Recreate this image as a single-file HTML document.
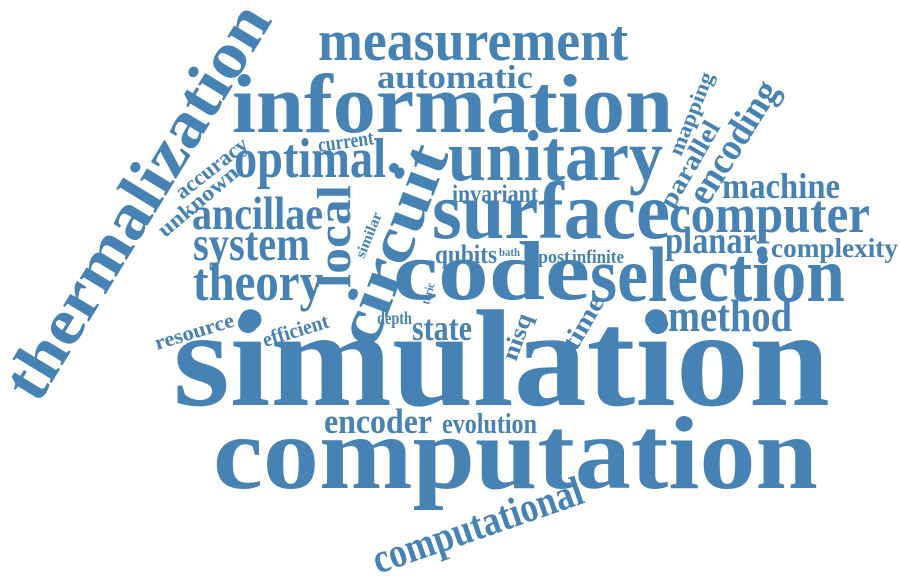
<!DOCTYPE html>
<html><head><meta charset="utf-8"><style>
html,body{margin:0;padding:0;background:#fff;}
svg{display:block;}
text{font-family:"Liberation Serif",serif;font-weight:bold;fill:#4682b4;}
</style></head><body>
<svg width="900" height="576" viewBox="0 0 900 576" xmlns="http://www.w3.org/2000/svg">
<text x="318" y="60" font-size="58" textLength="310" lengthAdjust="spacingAndGlyphs">measurement</text>
<text x="377" y="88" font-size="33" textLength="156" lengthAdjust="spacingAndGlyphs">automatic</text>
<text x="232" y="132" font-size="84" textLength="441" lengthAdjust="spacingAndGlyphs">information</text>
<text x="448" y="180" font-size="72" textLength="215" lengthAdjust="spacingAndGlyphs">unitary</text>
<text x="234" y="177" font-size="56" textLength="152" lengthAdjust="spacingAndGlyphs">optimal</text>
<circle cx="394" cy="168" r="5" fill="#4682b4"/>
<text transform="translate(319,152) rotate(-8)" font-size="21" textLength="56" lengthAdjust="spacingAndGlyphs">current</text>
<text transform="translate(182,200) rotate(-38)" font-size="22" textLength="86" lengthAdjust="spacingAndGlyphs">accuracy</text>
<text transform="translate(165,238) rotate(-40)" font-size="22" textLength="98" lengthAdjust="spacingAndGlyphs">unknown</text>
<text x="452" y="202" font-size="25" textLength="86" lengthAdjust="spacingAndGlyphs">invariant</text>
<text x="432" y="238" font-size="82" textLength="238" lengthAdjust="spacingAndGlyphs">surface</text>
<text x="669" y="232" font-size="54" textLength="201" lengthAdjust="spacingAndGlyphs">computer</text>
<text x="722" y="198" font-size="36" textLength="118" lengthAdjust="spacingAndGlyphs">machine</text>
<text x="665" y="253" font-size="38" textLength="92" lengthAdjust="spacingAndGlyphs">planar</text>
<circle cx="763" cy="259" r="5" fill="#4682b4"/>
<text x="771" y="257" font-size="27" textLength="127" lengthAdjust="spacingAndGlyphs">complexity</text>
<text x="590" y="301" font-size="78" textLength="255" lengthAdjust="spacingAndGlyphs">selection</text>
<circle cx="658" cy="324" r="10" fill="#4682b4"/>
<text x="668" y="331" font-size="46" textLength="124" lengthAdjust="spacingAndGlyphs">method</text>
<text x="192" y="229" font-size="47" textLength="131" lengthAdjust="spacingAndGlyphs">ancillae</text>
<text x="193" y="260" font-size="49" textLength="117" lengthAdjust="spacingAndGlyphs">system</text>
<text x="193" y="300" font-size="54" textLength="130" lengthAdjust="spacingAndGlyphs">theory</text>
<circle cx="248" cy="323" r="10" fill="#4682b4"/>
<text x="435" y="263" font-size="26" textLength="62" lengthAdjust="spacingAndGlyphs">qubits</text>
<text x="499" y="256" font-size="12" textLength="21" lengthAdjust="spacingAndGlyphs">bath</text>
<text x="538" y="263" font-size="19" textLength="32" lengthAdjust="spacingAndGlyphs">post</text>
<text x="572" y="263" font-size="19" textLength="52" lengthAdjust="spacingAndGlyphs">infinite</text>
<text x="393" y="299" font-size="84" textLength="197" lengthAdjust="spacingAndGlyphs">code</text>
<text x="412" y="340" font-size="36" textLength="60" lengthAdjust="spacingAndGlyphs">state</text>
<text x="377" y="324" font-size="18" textLength="35" lengthAdjust="spacingAndGlyphs">depth</text>
<text transform="translate(265,347) rotate(-17)" font-size="21" textLength="68" lengthAdjust="spacingAndGlyphs">efficient</text>
<text transform="translate(157,350) rotate(-17)" font-size="21" textLength="82" lengthAdjust="spacingAndGlyphs">resource</text>
<text transform="translate(429,305) rotate(-75)" font-size="12" textLength="22" lengthAdjust="spacingAndGlyphs">toric</text>
<text transform="translate(364,259) rotate(-68)" font-size="15" textLength="48" lengthAdjust="spacingAndGlyphs">similar</text>
<text transform="translate(350,288) rotate(-90)" font-size="48" textLength="103" lengthAdjust="spacingAndGlyphs">local</text>
<text transform="translate(374,350) rotate(-69)" font-size="64" textLength="210" lengthAdjust="spacingAndGlyphs">circuit</text>
<text transform="translate(516,362) rotate(-70)" font-size="24" textLength="48" lengthAdjust="spacingAndGlyphs">nisq</text>
<text transform="translate(576,352) rotate(-60)" font-size="26" textLength="58" lengthAdjust="spacingAndGlyphs">time</text>
<text transform="translate(681,157) rotate(-68)" font-size="21" textLength="88" lengthAdjust="spacingAndGlyphs">mapping</text>
<text transform="translate(673,210) rotate(-60)" font-size="26" textLength="96" lengthAdjust="spacingAndGlyphs">parallel</text>
<text transform="translate(707,207) rotate(-58)" font-size="38" textLength="138" lengthAdjust="spacingAndGlyphs">encoding</text>
<text transform="translate(38,405) rotate(-58.6)" font-size="66" textLength="451" lengthAdjust="spacingAndGlyphs">thermalization</text>
<text x="173" y="405" font-size="138" textLength="657" lengthAdjust="spacingAndGlyphs">simulation</text>
<text x="324" y="433" font-size="35" textLength="108" lengthAdjust="spacingAndGlyphs">encoder</text>
<text x="442" y="433" font-size="28" textLength="95" lengthAdjust="spacingAndGlyphs">evolution</text>
<text x="213" y="488" font-size="104" textLength="605" lengthAdjust="spacingAndGlyphs">computation</text>
<text transform="translate(378,574) rotate(-19)" font-size="42" textLength="220" lengthAdjust="spacingAndGlyphs">computational</text>
</svg>
</body></html>
